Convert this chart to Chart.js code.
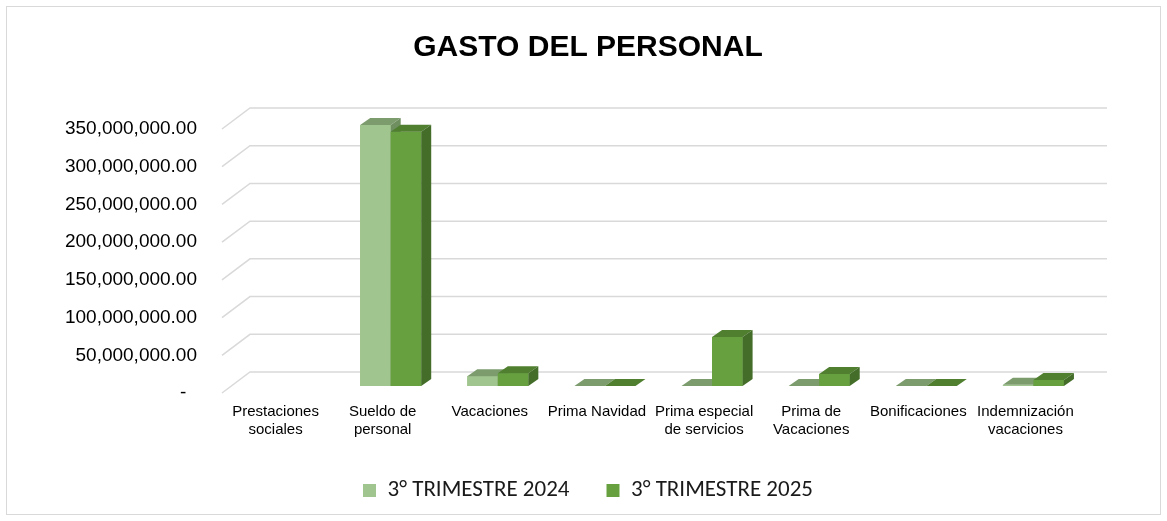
<!DOCTYPE html>
<html lang="es">
<head>
    <meta charset="UTF-8">
    <title>Gasto del personal</title>
    <style>
        body { margin: 0; background: #fff; }
        .chart-container { position: relative; width: 1167px; height: 521px; }
    </style>
    <script src="https://cdn.jsdelivr.net/npm/chart.js"></script>
</head>
<body>
    <div class="chart-container">
        <canvas id="gastoChart"></canvas>
    </div>

    <script>
        // data
        const categorias = [
            ['Prestaciones', 'sociales'],
            ['Sueldo de', 'personal'],
            'Vacaciones',
            'Prima Navidad',
            ['Prima especial', 'de servicios'],
            ['Prima de', 'Vacaciones'],
            'Bonificaciones',
            ['Indemnización', 'vacaciones']
        ];
        const trimestre2024 = [null, 346000000, 13000000, 0, 0, 0, 0, 1500000];
        const trimestre2025 = [null, 337000000, 17000000, 0, 65000000, 16000000, 0, 8000000];
        const yTicks = [0, 50000000, 100000000, 150000000, 200000000, 250000000, 300000000, 350000000];

        // no Arial Narrow here, so Liberation Sans at a smaller size
        const sans = '"Liberation Sans Narrow", "Arial Narrow", "Liberation Sans", Arial, sans-serif';

        // colours for the faked 3D faces: front, top, side
        const caras = [
            { front: '#A0C58E', top: '#7C9C6E', side: '#6F8F61' },
            { front: '#66A03F', top: '#507F30', side: '#436D29' }
        ];
        const prof = { dx: 10, dy: 7 };

        // back wall gridlines with the little diagonal on the floor side
        const grid3d = {
            id: 'grid3d',
            beforeDraw(chart) {
                const c = chart.ctx;
                c.save();
                c.strokeStyle = '#D9D9D9';
                c.lineWidth = 1;
                c.strokeRect(6.5, 6.5, chart.width - 13, chart.height - 13);
                c.restore();
            },
            beforeDatasetsDraw(chart) {
                const c = chart.ctx;
                const area = chart.chartArea;
                const y = chart.scales.y;
                c.save();
                c.strokeStyle = '#D9D9D9';
                c.lineWidth = 1.5;
                yTicks.forEach(v => {
                    const py = y.getPixelForValue(v);
                    c.beginPath();
                    c.moveTo(area.left - 8, py + 7);
                    c.lineTo(area.left + 20, py - 14);
                    c.lineTo(area.right + 20, py - 14);
                    c.stroke();
                });
                c.restore();
            }
        };

        const bars3d = {
            id: 'bars3d',
            afterDatasetsDraw(chart) {
                const c = chart.ctx;
                c.save();
                for (let i = 0; i < categorias.length; i++) {
                    chart.data.datasets.forEach((ds, d) => {
                        if (ds.data[i] === null) return;
                        const el = chart.getDatasetMeta(d).data[i];
                        const l = el.x - el.width / 2, r = el.x + el.width / 2;
                        const t = el.y, b = el.base;
                        const col = caras[d];
                        // front
                        c.fillStyle = col.front;
                        c.fillRect(l, t, r - l, b - t);
                        // top
                        c.fillStyle = col.top;
                        c.beginPath();
                        c.moveTo(l, t);
                        c.lineTo(l + prof.dx, t - prof.dy);
                        c.lineTo(r + prof.dx, t - prof.dy);
                        c.lineTo(r, t);
                        c.closePath();
                        c.fill();
                        // side
                        c.fillStyle = col.side;
                        c.beginPath();
                        c.moveTo(r, t);
                        c.lineTo(r + prof.dx, t - prof.dy);
                        c.lineTo(r + prof.dx, b - prof.dy);
                        c.lineTo(r, b);
                        c.closePath();
                        c.fill();
                    });
                }
                c.restore();
            }
        };

        new Chart(document.getElementById('gastoChart'), {
            type: 'bar',
            data: {
                labels: categorias,
                datasets: [
                    {
                        label: '3° TRIMESTRE 2024',
                        data: trimestre2024,
                        backgroundColor: caras[0].front,
                        categoryPercentage: 0.57,
                        barPercentage: 1
                    },
                    {
                        label: '3° TRIMESTRE 2025',
                        data: trimestre2025,
                        backgroundColor: caras[1].front,
                        categoryPercentage: 0.57,
                        barPercentage: 1
                    }
                ]
            },
            options: {
                responsive: true,
                maintainAspectRatio: false,
                animation: false,
                layout: { padding: { left: 9, right: 0, top: 0, bottom: 9 } },
                plugins: {
                    title: {
                        display: true,
                        text: 'GASTO DEL PERSONAL',
                        color: '#000',
                        font: { family: sans, size: 30, weight: 'bold' },
                        padding: { top: 29.5, bottom: 56.5 }
                    },
                    legend: {
                        position: 'bottom',
                        labels: {
                            boxWidth: 13,
                            boxHeight: 13,
                            padding: 37,
                            color: '#1a1a1a',
                            font: { family: 'Carlito, Lato, sans-serif', size: 23 }
                        }
                    },
                    tooltip: { enabled: false }
                },
                scales: {
                    x: {
                        grid: { display: false, drawTicks: false },
                        border: { display: false },
                        ticks: {
                            color: '#000',
                            font: { family: sans, size: 15 },
                            maxRotation: 0,
                            autoSkip: false,
                            padding: 17,
                            labelOffset: -8
                        },
                        afterFit(scale) { scale.height = 56; }
                    },
                    y: {
                        min: 0,
                        max: 350000000,
                        grid: { display: false, drawTicks: false },
                        border: { display: false },
                        ticks: {
                            stepSize: 50000000,
                            color: '#000',
                            font: { family: sans, size: 19 },
                            padding: 33,
                            labelOffset: 7,
                            callback: v => v === 0 ? '-  ' :
                                v.toLocaleString('en-US', { minimumFractionDigits: 2, maximumFractionDigits: 2 })
                        },
                        afterFit(scale) { scale.width = 221; }
                    },
                    // empty right axis, only keeps room for the back wall depth
                    yRight: {
                        position: 'right',
                        grid: { display: false, drawTicks: false },
                        border: { display: false },
                        ticks: { display: false },
                        afterFit(scale) { scale.width = 80; }
                    }
                }
            },
            plugins: [grid3d, bars3d]
        });
    </script>
</body>
</html>
